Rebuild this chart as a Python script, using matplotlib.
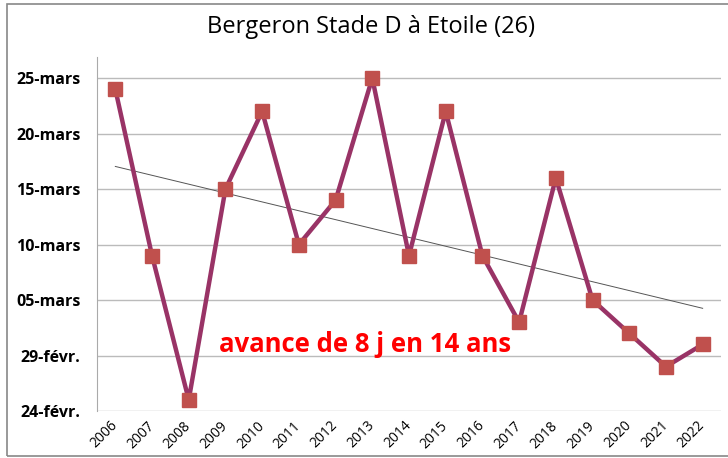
import numpy as np
import matplotlib.pyplot as plt
from matplotlib.patches import Rectangle

# years and flowering dates (days after 24 Feb, leap-year calendar)
years = ['2006', '2007', '2008', '2009', '2010', '2011', '2012', '2013', '2014',
         '2015', '2016', '2017', '2018', '2019', '2020', '2021', '2022']
days = [29, 14, 1, 20, 27, 15, 19, 30, 14, 27, 14, 8, 21, 10, 7, 4, 6]
tick_days = [0, 5, 10, 15, 20, 25, 30]
tick_labels = ['24-févr.', '29-févr.', '05-mars', '10-mars', '15-mars', '20-mars', '25-mars']

plt.rcParams['font.family'] = ['Open Sans', 'DejaVu Sans']

fig = plt.figure(figsize=(7.28, 4.58), dpi=100)
ax = fig.add_axes([0.1332, 0.1026, 0.8572, 0.7729])

x = np.arange(len(years))
ax.plot(x, days, color='#993366', lw=3.2, marker='s', ms=10,
        mfc='#C0504D', mec='#C0504D', zorder=3)

# linear trend
coef = np.polyfit(x, days, 1)
ax.plot(x, np.polyval(coef, x), color='#555555', lw=0.7, zorder=2)

ax.set_xlim(-0.5, len(years) - 0.5)
ax.set_ylim(0, 31.9)
ax.set_xticks(x)
ax.set_xticklabels(years, rotation=45, ha='right', va='center',
                   rotation_mode='anchor', fontsize=10)
ax.set_yticks(tick_days)
ax.set_yticklabels(tick_labels, fontsize=11.5, fontweight='bold')
ax.tick_params(length=0)
ax.tick_params(axis='y', pad=12)
ax.tick_params(axis='x', pad=9)
ax.grid(axis='y', color='#BBBBBB', lw=1)
ax.set_axisbelow(True)
for s in ['top', 'right', 'bottom']:
    ax.spines[s].set_visible(False)
ax.spines['left'].set_color('#AAAAAA')

ax.text(6.8, 6.0, 'avance de 8 j en 14 ans', color='#FF0000', fontsize=18.5,
        fontweight='bold', ha='center', va='center')

fig.text(0.51, 1 - 27 / 458, 'Bergeron Stade D à Etoile (26)', fontsize=17,
         ha='center', va='center')

fig.patches.append(Rectangle((7 / 728, 2 / 458), 730 / 728, 452 / 458,
                             transform=fig.transFigure, fill=False,
                             edgecolor='#888888', lw=1.2))

fig.savefig('out.png', dpi=100)
